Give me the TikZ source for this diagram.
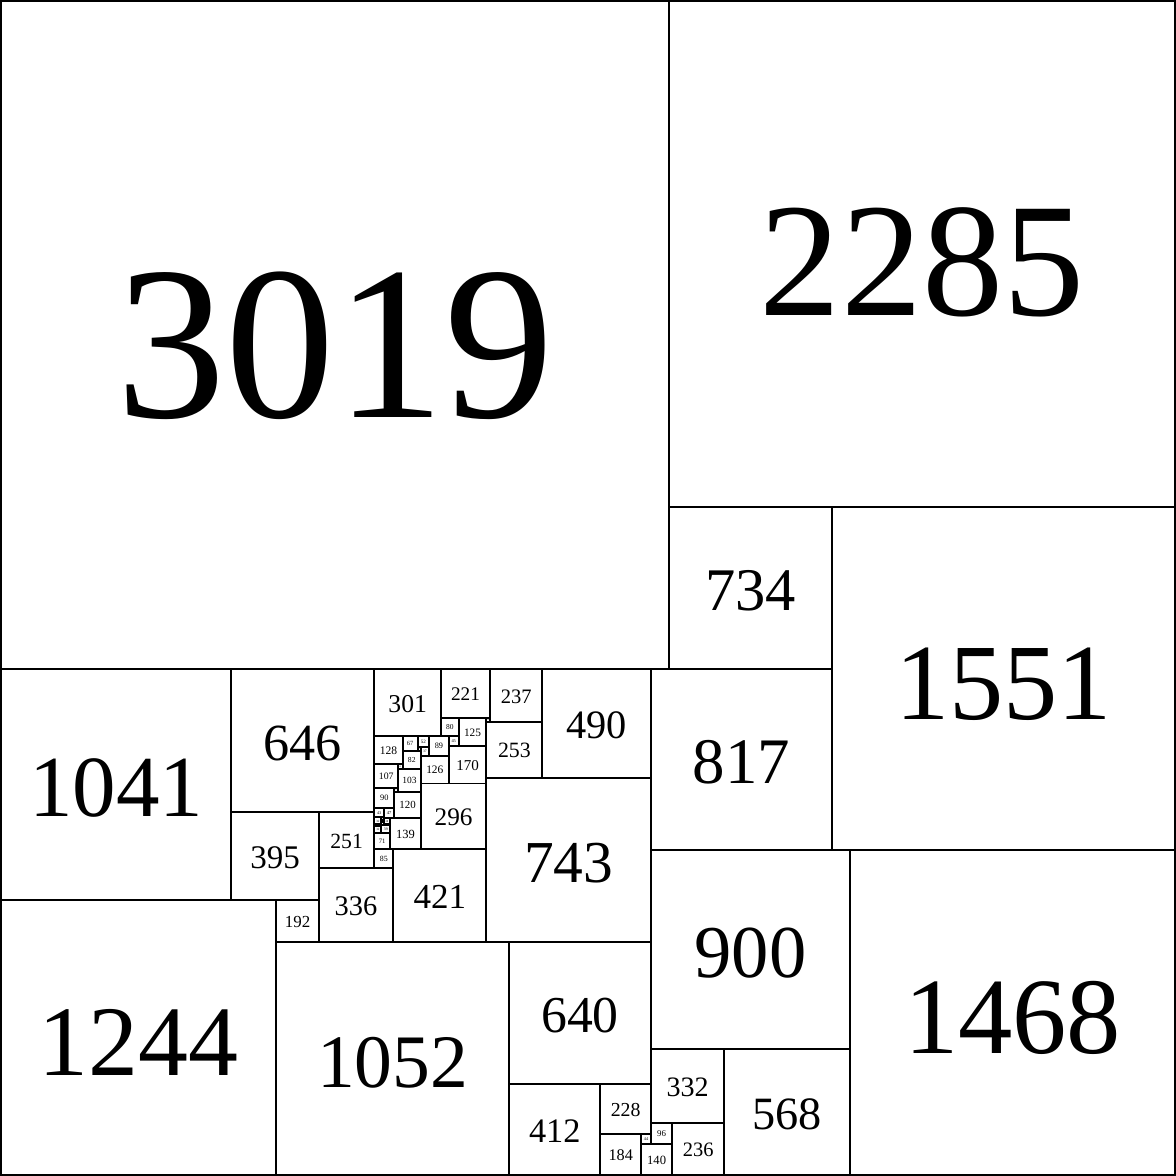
\documentclass[tikz,border=0pt]{standalone}
\usepackage{fontspec}
\setmainfont{Liberation Serif}

\begin{document}
\begin{tikzpicture}[x=0.003cm,y=-0.003cm,line width=0.75pt]
 \useasboundingbox (-4,-4) rectangle (5308,5308);
 % ---- squares: left/top/side/text scale ----
 \foreach \x/\y/\s/\f [count=\i] in {%
   0/0/3019/1, 3019/0/2285/0.96, 3019/2285/734/1.03, 3753/2285/1551/0.92,
   0/3019/1041/1.07, 1041/3019/646/1, 1687/3019/301/1, 1988/3019/221/1, 2209/3019/237/1,
   2446/3019/490/1, 2936/3019/817/1, 1988/3240/80/1, 2068/3240/125/1, 2193/3240/16/1,
   2193/3256/253/1, 1687/3320/128/1, 1815/3320/67/1, 1882/3320/52/1, 1934/3320/89/1,
   2023/3320/45/1, 2023/3365/170/1, 1882/3372/15/1, 1897/3372/37/1, 1815/3387/82/1,
   1897/3409/126/1, 1794/3448/21/1, 1687/3448/107/1, 1794/3469/103/1, 2193/3509/743/1,
   1897/3535/296/1, 1687/3555/90/1, 1777/3555/17/1, 1777/3572/120/1,
   1687/3645/43/1, 1730/3645/47/1, 1687/3688/32/1, 1687/3720/8/1, 1695/3720/8/1,
   1703/3720/8/1, 1711/3720/8/1, 1719/3688/11/1, 1719/3699/11/1, 1719/3710/11/1,
   1730/3692/28/1, 1719/3721/39/1, 1687/3728/32/1,
   1758/3692/139/1, 1687/3760/71/1, 1041/3665/395/1, 1436/3665/251/1, 1687/3831/85/1,
   1772/3831/421/1, 1436/3916/336/1, 0/4060/1244/1.04, 1244/4060/192/1, 1244/4252/1052/0.92,
   2296/4252/640/1, 2296/4892/412/1, 2708/4892/228/1, 2708/5120/184/1, 2892/5120/44/1,
   2892/5164/140/1, 2936/5068/96/1, 3032/5068/236/1, 2936/4736/332/1, 3268/4736/568/1,
   2936/3836/900/1.05, 3836/3836/1468/0.97} {
   \pgfmathsetmacro\fs{0.0491*\f*\s^0.93}
   \draw (\x,\y) rectangle ++(\s,\s);
   \node[inner sep=0pt,font=\fontsize{\fs pt}{\fs pt}\selectfont] (sq\i)
     at ({\x+\s/2},{\y+0.5165*\s}) {\s};}
\end{tikzpicture}
\end{document}
